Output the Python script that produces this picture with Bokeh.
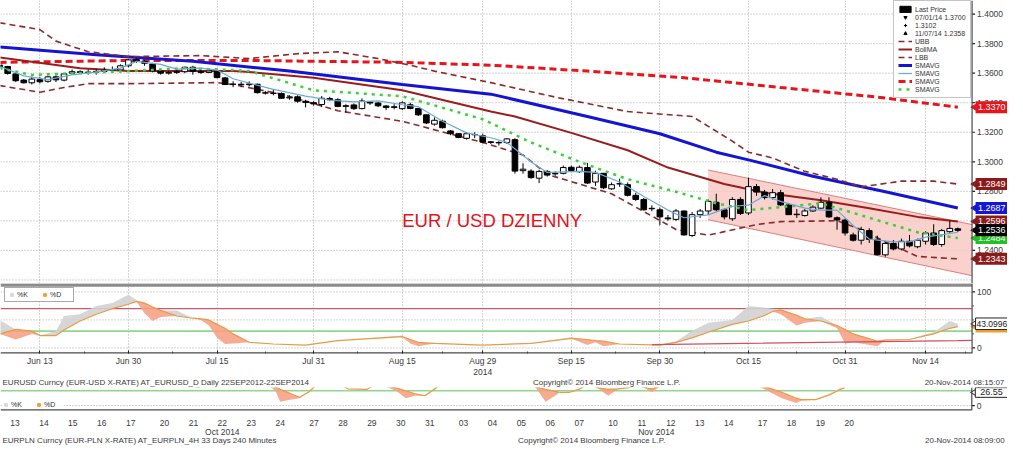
import numpy as np
import pandas as pd
from bokeh.plotting import figure
from bokeh.models import (Range1d, LinearAxis, FixedTicker, Span, Label, Legend, LegendItem,
                          ColumnDataSource, Grid)
from bokeh.layouts import column
from bokeh.embed import file_html
from bokeh.resources import INLINE
from bokeh.core.properties import value

FONT = "Liberation Sans"

# ---------------- EURUSD daily data ----------------
dates = [d.strftime("%Y-%m-%d") for d in pd.bdate_range("2014-06-06", "2014-11-20")]
pos = {d: i for i, d in enumerate(dates)}

opens = [
    1.3655, 1.3645, 1.3595, 1.3553, 1.3535, 1.3556,
    1.3545, 1.3575, 1.3553, 1.3600, 1.3610,
    1.3605, 1.3607, 1.3612, 1.3620, 1.3622,
    1.3650, 1.3692, 1.3680, 1.3662, 1.3615,
    1.3600, 1.3605, 1.3610, 1.3640, 1.3612,
    1.3605, 1.3615, 1.3568, 1.3525, 1.3525,
    1.3522, 1.3525, 1.3467, 1.3465, 1.3462,
    1.3432, 1.3440, 1.3410, 1.3400, 1.3388,
    1.3428, 1.3420, 1.3375, 1.3385, 1.3360,
    1.3405, 1.3398, 1.3378, 1.3368, 1.3360,
    1.3386, 1.3361, 1.3318, 1.3255, 1.3275,
    1.3209, 1.3190, 1.3159, 1.3185, 1.3176,
    1.3135, 1.3131, 1.3130, 1.3150, 1.2940,
    1.2937, 1.2889, 1.2935, 1.2918, 1.2922,
    1.2963, 1.2933, 1.2961, 1.2863, 1.2922,
    1.2817, 1.2850, 1.2845, 1.2773, 1.2745,
    1.2682, 1.2675, 1.2620, 1.2610, 1.2667,
    1.2501, 1.2642, 1.2667, 1.2726, 1.2675,
    1.2614, 1.2745, 1.2654, 1.2832, 1.2795,
    1.2758, 1.2791, 1.2708, 1.2642, 1.2636,
    1.2667, 1.2686, 1.2726, 1.2621, 1.2606,
    1.2505, 1.2469, 1.2534, 1.2475, 1.2370,
    1.2447, 1.2410, 1.2462, 1.2425, 1.2462,
    1.2518, 1.2440, 1.2527, 1.2546,
]
highs = [
    1.3670, 1.3650, 1.3600, 1.3560, 1.3575, 1.3575,
    1.3585, 1.3585, 1.3600, 1.3625, 1.3620,
    1.3625, 1.3630, 1.3640, 1.3645, 1.3660,
    1.3695, 1.3700, 1.3690, 1.3670, 1.3620,
    1.3620, 1.3625, 1.3645, 1.3650, 1.3625,
    1.3630, 1.3625, 1.3575, 1.3545, 1.3540,
    1.3545, 1.3530, 1.3480, 1.3490, 1.3470,
    1.3450, 1.3450, 1.3420, 1.3410, 1.3445,
    1.3440, 1.3430, 1.3390, 1.3395, 1.3430,
    1.3410, 1.3405, 1.3385, 1.3390, 1.3410,
    1.3400, 1.3365, 1.3320, 1.3300, 1.3285,
    1.3215, 1.3195, 1.3200, 1.3200, 1.3190,
    1.3140, 1.3140, 1.3160, 1.3160, 1.2990,
    1.2950, 1.2945, 1.2945, 1.2935, 1.2975,
    1.2975, 1.2975, 1.2993, 1.2940, 1.2925,
    1.2860, 1.2885, 1.2860, 1.2790, 1.2755,
    1.2705, 1.2690, 1.2640, 1.2680, 1.2670,
    1.2660, 1.2680, 1.2745, 1.2784, 1.2685,
    1.2760, 1.2760, 1.2893, 1.2850, 1.2810,
    1.2815, 1.2810, 1.2715, 1.2680, 1.2680,
    1.2705, 1.2760, 1.2760, 1.2630, 1.2615,
    1.2520, 1.2560, 1.2550, 1.2500, 1.2460,
    1.2470, 1.2480, 1.2505, 1.2480, 1.2530,
    1.2577, 1.2545, 1.2601, 1.2555,
]
lows = [
    1.3630, 1.3590, 1.3540, 1.3530, 1.3523, 1.3530,
    1.3535, 1.3540, 1.3545, 1.3590, 1.3595,
    1.3590, 1.3590, 1.3600, 1.3605, 1.3605,
    1.3640, 1.3670, 1.3650, 1.3605, 1.3590,
    1.3590, 1.3595, 1.3600, 1.3590, 1.3595,
    1.3600, 1.3565, 1.3520, 1.3505, 1.3505,
    1.3510, 1.3462, 1.3455, 1.3450, 1.3425,
    1.3420, 1.3400, 1.3368, 1.3380, 1.3370,
    1.3410, 1.3370, 1.3335, 1.3350, 1.3355,
    1.3385, 1.3370, 1.3350, 1.3355, 1.3350,
    1.3355, 1.3310, 1.3255, 1.3245, 1.3225,
    1.3180, 1.3160, 1.3150, 1.3160, 1.3125,
    1.3120, 1.3110, 1.3120, 1.2920, 1.2920,
    1.2885, 1.2856, 1.2900, 1.2905, 1.2915,
    1.2930, 1.2925, 1.2850, 1.2837, 1.2815,
    1.2810, 1.2830, 1.2765, 1.2735, 1.2670,
    1.2665, 1.2570, 1.2600, 1.2600, 1.2500,
    1.2490, 1.2620, 1.2640, 1.2665, 1.2610,
    1.2600, 1.2640, 1.2640, 1.2770, 1.2745,
    1.2745, 1.2700, 1.2640, 1.2620, 1.2630,
    1.2660, 1.2680, 1.2620, 1.2540, 1.2500,
    1.2460, 1.2440, 1.2450, 1.2365, 1.2358,
    1.2400, 1.2400, 1.2420, 1.2415, 1.2440,
    1.2430, 1.2425, 1.2520, 1.2525,
]
closes = [
    1.3642, 1.3598, 1.3549, 1.3535, 1.3560, 1.3542,
    1.3575, 1.3555, 1.3595, 1.3610, 1.3605,
    1.3607, 1.3612, 1.3620, 1.3625, 1.3650,
    1.3690, 1.3680, 1.3667, 1.3615, 1.3600,
    1.3605, 1.3612, 1.3640, 1.3612, 1.3605,
    1.3615, 1.3570, 1.3523, 1.3525, 1.3522,
    1.3527, 1.3468, 1.3465, 1.3463, 1.3430,
    1.3437, 1.3410, 1.3402, 1.3392, 1.3430,
    1.3420, 1.3375, 1.3380, 1.3360, 1.3412,
    1.3398, 1.3379, 1.3368, 1.3373, 1.3399,
    1.3361, 1.3318, 1.3263, 1.3281, 1.3231,
    1.3190, 1.3165, 1.3190, 1.3183, 1.3133,
    1.3131, 1.3128, 1.3155, 1.2937, 1.2950,
    1.2893, 1.2935, 1.2910, 1.2922, 1.2961,
    1.2941, 1.2963, 1.2856, 1.2922, 1.2824,
    1.2845, 1.2852, 1.2773, 1.2745, 1.2675,
    1.2685, 1.2627, 1.2614, 1.2667, 1.2505,
    1.2642, 1.2667, 1.2732, 1.2675, 1.2627,
    1.2745, 1.2650, 1.2832, 1.2795, 1.2758,
    1.2791, 1.2708, 1.2642, 1.2645, 1.2667,
    1.2693, 1.2726, 1.2627, 1.2606, 1.2518,
    1.2469, 1.2541, 1.2475, 1.2371, 1.2447,
    1.2410, 1.2462, 1.2431, 1.2469, 1.2518,
    1.2440, 1.2534, 1.2549, 1.2536,
]
assert len(dates) == len(opens) == len(highs) == len(lows) == len(closes)

# moving averages / bands
sma100_dates = ["2014-06-06", "2014-06-24", "2014-07-10", "2014-07-28", "2014-08-15", "2014-09-01",
                "2014-09-17", "2014-09-30", "2014-10-09", "2014-10-15", "2014-10-27", "2014-11-07", "2014-11-20"]
sma100_vals = [1.3778, 1.3725, 1.3680, 1.3614, 1.3523, 1.3458, 1.3307, 1.3190, 1.3065, 1.3013, 1.2902, 1.2797, 1.2687]

sma200_dates = ["2014-06-06", "2014-06-30", "2014-07-21", "2014-08-15", "2014-09-01", "2014-09-17",
                "2014-10-03", "2014-10-21", "2014-11-06", "2014-11-20"]
sma200_vals = [1.3673, 1.3686, 1.3686, 1.3673, 1.3654, 1.3614, 1.3569, 1.3503, 1.3438, 1.3370]

bollma_dates = ["2014-06-06", "2014-06-20", "2014-06-30", "2014-07-17", "2014-07-21", "2014-07-31", "2014-08-15",
                "2014-09-01", "2014-09-04", "2014-09-15", "2014-09-24", "2014-10-01", "2014-10-10", "2014-10-17",
                "2014-10-28", "2014-11-05", "2014-11-13", "2014-11-20"]
bollma_vals = [1.3706, 1.3634, 1.3614, 1.3614, 1.3608, 1.3569, 1.3484, 1.3340, 1.3307, 1.3196, 1.3078, 1.2961,
               1.2850, 1.2791, 1.2739, 1.2686, 1.2627, 1.2596]

ubb_dates = ["2014-06-06", "2014-06-13", "2014-06-17", "2014-06-23", "2014-06-30", "2014-07-11", "2014-07-21",
             "2014-07-29", "2014-08-05", "2014-08-12", "2014-08-18", "2014-08-21", "2014-09-01", "2014-09-11",
             "2014-09-24", "2014-10-06", "2014-10-13", "2014-10-15", "2014-10-20", "2014-10-24", "2014-10-30",
             "2014-11-04", "2014-11-11", "2014-11-17", "2014-11-20"]
ubb_vals = [1.3941, 1.3895, 1.3817, 1.3745, 1.3712, 1.3719, 1.3699, 1.3732, 1.3745, 1.3699, 1.3654, 1.3614,
            1.3536, 1.3438, 1.3340, 1.3307, 1.3140, 1.3065, 1.3026, 1.2935, 1.2882, 1.2830, 1.2869, 1.2869, 1.2849]

lbb_dates = ["2014-06-06", "2014-06-13", "2014-06-18", "2014-06-23", "2014-06-30", "2014-07-15", "2014-07-17",
             "2014-07-25", "2014-08-05", "2014-08-15", "2014-08-29", "2014-09-05", "2014-09-10", "2014-09-22",
             "2014-10-02", "2014-10-08", "2014-10-16", "2014-10-21", "2014-10-30", "2014-11-04", "2014-11-07",
             "2014-11-13", "2014-11-20"]
lbb_vals = [1.3516, 1.3471, 1.3503, 1.3529, 1.3529, 1.3536, 1.3523, 1.3458, 1.3346, 1.3274, 1.3131, 1.3046,
            1.2915, 1.2784, 1.2542, 1.2503, 1.2575, 1.2595, 1.2601, 1.2542, 1.2458, 1.2359, 1.2343]

sma20_dates = ["2014-06-06", "2014-06-12", "2014-06-20", "2014-06-30", "2014-07-09", "2014-07-17", "2014-07-21",
               "2014-07-31", "2014-08-15", "2014-08-29", "2014-09-08", "2014-09-16", "2014-09-24", "2014-10-02",
               "2014-10-09", "2014-10-15", "2014-10-22", "2014-10-28", "2014-11-03", "2014-11-07", "2014-11-13",
               "2014-11-20"]
sma20_vals = [1.3634, 1.3588, 1.3601, 1.3614, 1.3634, 1.3621, 1.3614, 1.3484, 1.3444, 1.3288, 1.3131, 1.3000,
              1.2882, 1.2797, 1.2719, 1.2673, 1.2699, 1.2719, 1.2654, 1.2588, 1.2523, 1.2484]

sma5_dates = ["2014-06-06", "2014-06-11", "2014-06-16", "2014-06-19", "2014-06-24", "2014-06-27", "2014-07-01",
              "2014-07-04", "2014-07-08", "2014-07-11", "2014-07-15", "2014-07-17", "2014-07-24", "2014-07-30",
              "2014-08-04", "2014-08-07", "2014-08-12", "2014-08-15", "2014-08-19", "2014-08-22", "2014-08-27",
              "2014-09-01", "2014-09-03", "2014-09-08", "2014-09-10", "2014-09-16", "2014-09-18", "2014-09-23",
              "2014-09-26", "2014-10-01", "2014-10-03", "2014-10-08", "2014-10-13", "2014-10-15", "2014-10-17",
              "2014-10-21", "2014-10-24", "2014-10-28", "2014-10-30", "2014-11-03", "2014-11-05", "2014-11-10",
              "2014-11-12", "2014-11-14", "2014-11-20"]
sma5_vals = [1.3647, 1.3582, 1.3556, 1.3588, 1.3608, 1.3634, 1.3680, 1.3660, 1.3627, 1.3634, 1.3621, 1.3562,
             1.3490, 1.3444, 1.3418, 1.3405, 1.3412, 1.3386, 1.3373, 1.3275, 1.3196, 1.3163, 1.3131, 1.3000,
             1.2928, 1.2935, 1.2928, 1.2863, 1.2765, 1.2673, 1.2621, 1.2641, 1.2699, 1.2706, 1.2771, 1.2732,
             1.2686, 1.2673, 1.2673, 1.2569, 1.2477, 1.2458, 1.2458, 1.2490, 1.2523]

# drawn down-channel (start date, upper and lower values at start and at the right edge)
channel_start = "2014-10-08"
channel_upper = [1.2944, 1.2575]
channel_lower = [1.2608, 1.2229]

# stochastic (EURUSD)
st_dates = ["2014-06-06", "2014-06-10", "2014-06-12", "2014-06-13", "2014-06-17", "2014-06-18", "2014-06-20",
            "2014-06-24", "2014-06-26", "2014-06-30", "2014-07-01", "2014-07-02", "2014-07-03", "2014-07-04",
            "2014-07-08", "2014-07-10", "2014-07-11", "2014-07-14", "2014-07-15", "2014-07-16", "2014-07-17",
            "2014-07-21", "2014-07-24", "2014-07-30", "2014-08-05", "2014-08-15", "2014-08-18", "2014-08-19",
            "2014-08-21", "2014-08-29", "2014-09-08", "2014-09-15", "2014-09-17", "2014-09-18", "2014-09-19",
            "2014-09-23", "2014-09-30", "2014-10-02", "2014-10-06", "2014-10-08", "2014-10-13", "2014-10-15",
            "2014-10-17", "2014-10-20", "2014-10-21", "2014-10-23", "2014-10-24", "2014-10-28", "2014-10-30",
            "2014-10-31", "2014-11-03", "2014-11-06", "2014-11-07", "2014-11-12", "2014-11-14", "2014-11-17",
            "2014-11-19", "2014-11-20"]
st_d = [25, 33, 30, 22, 22, 32, 48, 60, 70, 78, 83, 80, 73, 67, 57, 53, 52, 50, 42, 35, 25, 10, 7, 5, 13,
        20, 15, 10, 8, 5, 8, 17, 15, 13, 12, 7, 5, 10, 18, 28, 42, 48, 58, 65, 68, 58, 52, 48, 40, 33, 25,
        12, 14, 15, 22, 25, 35, 38]
st_k = [50, 15, 25, 22, 30, 57, 60, 75, 80, 95, 85, 62, 48, 55, 67, 53, 50, 40, 18, 7, 8, 10, 7, 5, 13,
        22, 8, 3, 8, 5, 8, 19, 5, 10, 3, 7, 5, 12, 30, 45, 50, 75, 72, 70, 60, 40, 45, 56, 35, 8, 10,
        3, 15, 15, 24, 28, 48, 43.0996]
assert len(st_dates) == len(st_d) == len(st_k)
st_trend_dates = ["2014-09-29", "2014-11-20"]
st_trend_vals = [6.0, 13.0]

# axes of EURUSD panels
tick_dates = ["2014-06-13", "2014-06-30", "2014-07-15", "2014-07-31", "2014-08-15", "2014-08-29",
              "2014-09-15", "2014-09-30", "2014-10-15", "2014-10-31", "2014-11-14"]
tick_labels = ["Jun 13", "Jun 30", "Jul 15", "Jul 31", "Aug 15", "Aug 29",
               "Sep 15", "Sep 30", "Oct 15", "Oct 31", "Nov 14"]
price_grid = [1.22, 1.24, 1.26, 1.28, 1.30, 1.32, 1.34, 1.36, 1.38, 1.40]
price_labels = [1.24, 1.26, 1.28, 1.30, 1.32, 1.34, 1.36, 1.38, 1.40]

# ---------------- EURPLN 4H stochastic strip ----------------
pln_week_days = [["13", "14", "15", "16", "17"], ["20", "21", "22", "23", "24"], ["27", "28", "29", "30", "31"],
                 ["03", "04", "05", "06", "07"], ["10", "11", "12", "13", "14"], ["17", "18", "19", "20"]]
pln_month_labels = ["Oct 2014", "Nov 2014"]
pln_bars = [0, 20, 38, 41, 44, 55, 57, 58, 60, 62, 64, 65, 67, 71, 72, 76, 78, 82, 84, 86, 88, 90, 92, 108,
            111, 113, 115, 116, 118, 120, 122, 124, 126, 128, 130, 132, 134, 135, 137, 150, 157, 159, 162,
            165, 166, 169, 172, 174, 175]
pln_d = [60, 55, 45, 37, 50, 45, 38, 33, 25, 17, 28, 37, 50, 40, 34, 33, 45, 36, 30, 24, 20, 33, 50, 55,
         38, 33, 29, 27, 27, 33, 45, 36, 33, 34, 36, 42, 36, 34, 40, 60, 42, 37, 27, 15, 12, 12, 22, 32, 36]
pln_k = [60, 60, 48, 36, 55, 45, 30, 8, 12, 15, 30, 40, 55, 42, 34, 33, 48, 30, 15, 20, 22, 36, 55, 58,
         36, 8, 20, 27, 28, 35, 48, 34, 20, 33, 38, 44, 33, 27, 42, 65, 40, 30, 15, 5, 10, 13, 25, 35, 38]
pln_last = 26.55
assert len(pln_bars) == len(pln_d) == len(pln_k)

cap_usd = "EURUSD Curncy (EUR-USD X-RATE) AT_EURUSD_D  Daily 22SEP2012-22SEP2014"
cap_pln = "EURPLN Curncy (EUR-PLN X-RATE) AT_EURPLN_4H 33 Days 240 Minutes"
copyright_txt = "Copyright\u00a9 2014 Bloomberg Finance L.P."
stamp_usd = "20-Nov-2014 08:15:07"
stamp_pln = "20-Nov-2014 08:09:00"

# ---------------- layout constants ----------------
W = 1007
X0, X1, XT = 0.11, 120.77, 125.17     # day index: left edge, panel right edge (axis), full width
B1, BT = 201.4, 208.8                 # 4h bars: panel right edge, full width
PXX = W / (XT - X0)                   # px per day
PXB = W / BT                          # px per 4h bar

GRID_C = "#a8a8a8"
TXT_C = "#3a3a3a"
AX_C = "#4a4a4a"
TF = value(FONT)


def make_fig(h, xr, yr):
    p = figure(width=W, height=h, x_range=xr, y_range=yr, output_backend="svg",
               toolbar_location=None, x_axis_location=None, y_axis_location=None,
               min_border_left=0, min_border_right=0, min_border_top=0, min_border_bottom=0,
               background_fill_color="white", border_fill_color="white")
    p.outline_line_color = None
    p.grid.visible = False
    return p


def vgrid(p, ticks):
    p.add_layout(Grid(dimension=0, ticker=FixedTicker(ticks=ticks), grid_line_color=GRID_C,
                      grid_line_dash="1 2", grid_line_width=1))


def hgrid(p, x0, x1, levels):
    n = len(levels)
    p.segment(x0=[x0] * n, y0=levels, x1=[x1] * n, y1=levels, line_color=GRID_C,
              line_dash="1 2", line_width=1)


def right_scale(p, xa, pxx, majors, labels, minors=()):
    """axis line, outward ticks and labels right of the panel edge xa"""
    p.add_layout(Span(location=xa, dimension="height", line_color=AX_C, line_width=1.2))
    t = 3.0 / pxx
    p.segment(x0=[xa] * len(majors), y0=majors, x1=[xa + t] * len(majors), y1=majors,
              line_color="#222222", line_width=1.2)
    if minors:
        p.segment(x0=[xa] * len(minors), y0=list(minors), x1=[xa + 2.0 / pxx] * len(minors),
                  y1=list(minors), line_color="#555555", line_width=1)
    p.text(x=[xa + 5.0 / pxx] * len(majors), y=majors, text=labels, text_font=TF,
           text_font_size="8.5px", text_color=TXT_C, text_align="left", text_baseline="middle")


def value_tags(p, xa, pxx, pxy, items, size="9px"):
    """coloured value flags just right of the panel edge"""
    w = 32.5 / pxx
    cx = xa + (3.5 + 16.25) / pxx
    h = 12.0 / pxy
    for val, txt, bg, fg, bd in items:
        p.scatter([xa + 4.5 / pxx], [val], marker="triangle", angle=np.pi / 2, size=10,
                  fill_color=bg, line_color=bd if bd else bg)
        p.rect([cx], [val], width=w, height=h, fill_color=bg, line_color=bd)
        p.text([cx], [val], text=[txt], text_font=TF, text_font_size=size, text_color=fg,
               text_align="center", text_baseline="middle")


xr = Range1d(X0, XT)
tick_idx = [pos[d] for d in tick_dates]
minor_idx = [(a + b) / 2 for a, b in zip(tick_idx[:-1], tick_idx[1:])] + [tick_idx[-1] + 5]
xi = lambda ds: [pos[d] for d in ds]

# ================= main price panel =================
MH = 283
YR = (1.2176, 1.4092)
pm = make_fig(MH, xr, Range1d(*YR))
PXY_M = MH / (YR[1] - YR[0])
hgrid(pm, X0, X1, price_grid)
vgrid(pm, tick_idx)

cs = pos[channel_start]
pm.patch(x=[cs, X1, X1, cs], y=[channel_upper[0], channel_upper[1], channel_lower[1], channel_lower[0]],
         fill_color="#f7c6c0", fill_alpha=0.8, line_color=None)
pm.line([cs, X1], channel_upper, line_color="#e07c7c", line_width=1)
pm.line([cs, X1], channel_lower, line_color="#e07c7c", line_width=1)

r200 = pm.line(xi(sma200_dates), sma200_vals, line_color="#e8141c", line_width=3, line_dash="7 4")
r100 = pm.line(xi(sma100_dates), sma100_vals, line_color="#1414d2", line_width=3)
rubb = pm.line(xi(ubb_dates), ubb_vals, line_color="#8b2a2a", line_width=1.6, line_dash="6 4")
rlbb = pm.line(xi(lbb_dates), lbb_vals, line_color="#8b2a2a", line_width=1.6, line_dash="6 4")
rbma = pm.line(xi(bollma_dates), bollma_vals, line_color="#9a1c1c", line_width=2)

o = np.array(opens); c = np.array(closes)
src = ColumnDataSource(dict(
    x=list(range(len(dates))), top=list(np.maximum(o, c)), bottom=list(np.minimum(o, c)),
    high=highs, low=lows, fill=["white" if cc >= oo else "black" for oo, cc in zip(opens, closes)]))
pm.segment(x0="x", y0="low", x1="x", y1="high", source=src, line_color="black", line_width=1)
rbody = pm.vbar(x="x", width=0.7, top="top", bottom="bottom", fill_color="fill",
                line_color="black", line_width=1, source=src)

r20 = pm.line(xi(sma20_dates), sma20_vals, line_color="#3ccf3c", line_width=2.5, line_dash="3 5")
r5 = pm.line(xi(sma5_dates), sma5_vals, line_color="#6aaad8", line_width=1.2)

pm.add_layout(Label(x=pos["2014-08-15"], y=1.2600, text="EUR / USD DZIENNY", text_font=FONT,
                    text_font_size="18.5px", text_color="#e3121b", text_baseline="middle"))

r_hi = pm.scatter([-50], [1.3], marker="inverted_triangle", size=6, color="black")
r_avg = pm.scatter([-50], [1.3], marker="cross", size=6, color="black")
r_lo = pm.scatter([-50], [1.3], marker="triangle", size=6, color="black")

leg = Legend(items=[
    LegendItem(label="Last Price", renderers=[rbody], index=0),
    LegendItem(label="07/01/14 1.3700", renderers=[r_hi]),
    LegendItem(label="1.3102", renderers=[r_avg]),
    LegendItem(label="11/07/14 1.2358", renderers=[r_lo]),
    LegendItem(label="UBB", renderers=[rubb]),
    LegendItem(label="BollMA", renderers=[rbma]),
    LegendItem(label="LBB", renderers=[rlbb]),
    LegendItem(label="SMAVG", renderers=[r100]),
    LegendItem(label="SMAVG", renderers=[r5]),
    LegendItem(label="SMAVG", renderers=[r200]),
    LegendItem(label="SMAVG", renderers=[r20]),
], location=(893, MH - 4 - 94), margin=0, padding=4, spacing=0, label_height=8, glyph_height=8,
    glyph_width=14, label_standoff=3, label_text_font=FONT, label_text_font_size="7px",
    label_text_color="#333333", border_line_color="#8a8a8a", background_fill_alpha=1.0)
pm.add_layout(leg)

right_scale(pm, X1, PXX, price_labels, [f"{v:.4f}" for v in price_labels])
value_tags(pm, X1, PXX, PXY_M, [
    (sma200_vals[-1], f"{sma200_vals[-1]:.4f}", "#e8141c", "white", None),
    (ubb_vals[-1], f"{ubb_vals[-1]:.4f}", "#8b1a1a", "white", None),
    (sma100_vals[-1], f"{sma100_vals[-1]:.4f}", "#1515d8", "white", None),
    (bollma_vals[-1], f"{bollma_vals[-1]:.4f}", "#8b1a1a", "white", None),
    (sma20_vals[-1], f"{sma20_vals[-1]:.4f}", "#22c022", "white", None),
    (closes[-1], f"{closes[-1]:.4f}", "black", "white", None),
    (lbb_vals[-1], f"{lbb_vals[-1]:.4f}", "#8b1a1a", "white", None),
])

# ================= stochastic panel =================
SH = 85
SYR = (-10, 115)
ps = make_fig(SH, xr, Range1d(*SYR))
PXY_S = 72.5 / (SYR[1] - SYR[0])
hgrid(ps, X0, X1, [0, 50, 100])
vgrid(ps, tick_idx)
ps.segment(x0=[X0], y0=[112.5], x1=[X1], y1=[112.5], line_color="#8c8c8c", line_width=3.5)
ps.segment(x0=[X0], y0=[70], x1=[X1], y1=[70], line_color="#c45a6a", line_width=1.3)
ps.segment(x0=[X0], y0=[30], x1=[X1], y1=[30], line_color="#8fd68f", line_width=1.6)
ps.segment(x0=[X0], y0=[SYR[0]], x1=[X1], y1=[SYR[0]], line_color=AX_C, line_width=2.4)

sx = xi(st_dates)
kd = np.array(st_k, dtype=float); dd = np.array(st_d, dtype=float)
ps.varea(x=sx, y1=list(dd), y2=list(np.maximum(kd, dd)), fill_color="#d2d2d2", fill_alpha=0.9)
ps.varea(x=sx, y1=list(np.minimum(kd, dd)), y2=list(dd), fill_color="#f5a286", fill_alpha=0.9)
ps.line(sx, st_d, line_color="#e89a45", line_width=1.2)
ps.line(xi(st_trend_dates) + [X1], st_trend_vals + [13.5], line_color="#d05060", line_width=1.3)

rdk = ps.scatter([-50], [50], marker="square", size=7, color="#d8d8d8")
rdd = ps.scatter([-50], [50], marker="square", size=7, color="#f0a030")
sleg = Legend(items=[LegendItem(label="%K", renderers=[rdk]), LegendItem(label="%D", renderers=[rdd])],
              location="top_left", orientation="horizontal", margin=4, padding=3, spacing=4,
              label_height=7, glyph_height=7, glyph_width=7, label_standoff=2, label_text_font=FONT,
              label_text_font_size="7px", label_text_color="#333333", border_line_color="#555555")
ps.add_layout(sleg)

sxax = LinearAxis(ticker=FixedTicker(ticks=tick_idx, minor_ticks=minor_idx))
sxax.axis_line_color = None
sxax.major_tick_line_color = "#222222"
sxax.major_tick_in = 3
sxax.major_tick_out = 0
sxax.minor_tick_line_color = "#444444"
sxax.minor_tick_in = 2
sxax.minor_tick_out = 0
sxax.major_label_text_font = FONT
sxax.major_label_text_font_size = "8.5px"
sxax.major_label_text_color = TXT_C
sxax.major_label_standoff = 2
sxax.major_label_overrides = {t: lab for t, lab in zip(tick_idx, tick_labels)}
ps.add_layout(sxax, "below")

right_scale(ps, X1, PXX, [0, 100], ["0", "100"], minors=[25, 50, 75])
value_tags(ps, X1, PXX, PXY_S, [
    (st_d[-1], f"{st_d[-1]:.4f}", "#f0a030", "white", None),
    (st_k[-1], f"{st_k[-1]:.4f}", "white", "#222222", "#222222"),
], size="8.5px")

# ================= caption row 1 =================
pt1 = make_fig(19, Range1d(X0, XT), Range1d(0, 1))
pt1.text(x=[pos["2014-08-29"]], y=[0.8], text=["2014"], text_font=TF, text_font_size="8.5px",
         text_color=TXT_C, text_align="center", text_baseline="middle")
pt1.text(x=[X0 + 0.25], y=[0.25], text=[cap_usd], text_font=TF, text_font_size="8px",
         text_color=TXT_C, text_align="left", text_baseline="middle")
pt1.text(x=[66.25], y=[0.25], text=[copyright_txt], text_font=TF, text_font_size="8px",
         text_color=TXT_C, text_align="left", text_baseline="middle")
pt1.text(x=[XT - 0.4], y=[0.25], text=[stamp_usd], text_font=TF, text_font_size="8px",
         text_color=TXT_C, text_align="right", text_baseline="middle")

# ================= EURPLN strip =================
day_pos, day_lab, day_week = [], [], []
for w, days in enumerate(pln_week_days):
    for d, lab in enumerate(days):
        day_pos.append(w * 31 + d * 6 + 3)
        day_lab.append(lab)
        day_week.append(w)
oct_pos = [p_ for p_, w in zip(day_pos, day_week) if w < 3]
nov_pos = [p_ for p_, w in zip(day_pos, day_week) if w >= 3]
month_pos = [(oct_pos[0] + oct_pos[-1]) / 2, (nov_pos[0] + nov_pos[-1]) / 2]

PH = 41
PYR = (-10, 36.7)
pp = make_fig(PH, Range1d(0, BT), Range1d(*PYR))
PXY_P = 28.5 / (PYR[1] - PYR[0])
hgrid(pp, 0, B1, [0])
pp.segment(x0=[0], y0=[30], x1=[B1], y1=[30], line_color="#8fd68f", line_width=1.6)
pp.segment(x0=[0], y0=[PYR[0]], x1=[B1], y1=[PYR[0]], line_color=AX_C, line_width=2.4)
pk = np.array(pln_k, dtype=float); pdv = np.array(pln_d, dtype=float)
pp.varea(x=pln_bars, y1=list(pdv), y2=list(np.maximum(pk, pdv)), fill_color="#d2d2d2", fill_alpha=0.9)
pp.varea(x=pln_bars, y1=list(np.minimum(pk, pdv)), y2=list(pdv), fill_color="#f5a286", fill_alpha=0.9)
pp.line(pln_bars, pln_d, line_color="#e89a45", line_width=1.2)

pk_r = pp.scatter([-50], [0], marker="square", size=7, color="#d8d8d8")
pd_r = pp.scatter([-50], [0], marker="square", size=7, color="#f0a030")
pleg = Legend(items=[LegendItem(label="%K", renderers=[pk_r]), LegendItem(label="%D", renderers=[pd_r])],
              location="bottom_left", orientation="horizontal", margin=2, padding=2, spacing=4,
              label_height=7, glyph_height=7, glyph_width=7, label_standoff=2, label_text_font=FONT,
              label_text_font_size="7px", label_text_color="#333333", border_line_color=None,
              background_fill_alpha=0.9)
pp.add_layout(pleg)

px = LinearAxis(ticker=FixedTicker(ticks=day_pos))
px.axis_line_color = None
px.major_tick_line_color = None
px.minor_tick_line_color = None
px.major_label_text_font = FONT
px.major_label_text_font_size = "8.5px"
px.major_label_text_color = TXT_C
px.major_label_standoff = 3
px.major_label_overrides = {t: lab for t, lab in zip(day_pos, day_lab)}
pp.add_layout(px, "below")

right_scale(pp, B1, PXB, [0], ["0"])
value_tags(pp, B1, PXB, PXY_P, [(pln_last, f"{pln_last:.2f}", "white", "#222222", "#222222")])

# ================= caption row 2 =================
pt2 = make_fig(17, Range1d(0, BT), Range1d(0, 1))
pt2.text(x=month_pos, y=[0.78, 0.78], text=pln_month_labels, text_font=TF, text_font_size="8.5px",
         text_color=TXT_C, text_align="center", text_baseline="middle")
pt2.text(x=[0.4], y=[0.27], text=[cap_pln], text_font=TF, text_font_size="8px",
         text_color=TXT_C, text_align="left", text_baseline="middle")
pt2.text(x=[107.3], y=[0.27], text=[copyright_txt], text_font=TF, text_font_size="8px",
         text_color=TXT_C, text_align="left", text_baseline="middle")
pt2.text(x=[BT - 0.6], y=[0.27], text=[stamp_pln], text_font=TF, text_font_size="8px",
         text_color=TXT_C, text_align="right", text_baseline="middle")

layout = column(pm, ps, pt1, pp, pt2, spacing=0)
open("out.html", "w").write(file_html(layout, INLINE))
